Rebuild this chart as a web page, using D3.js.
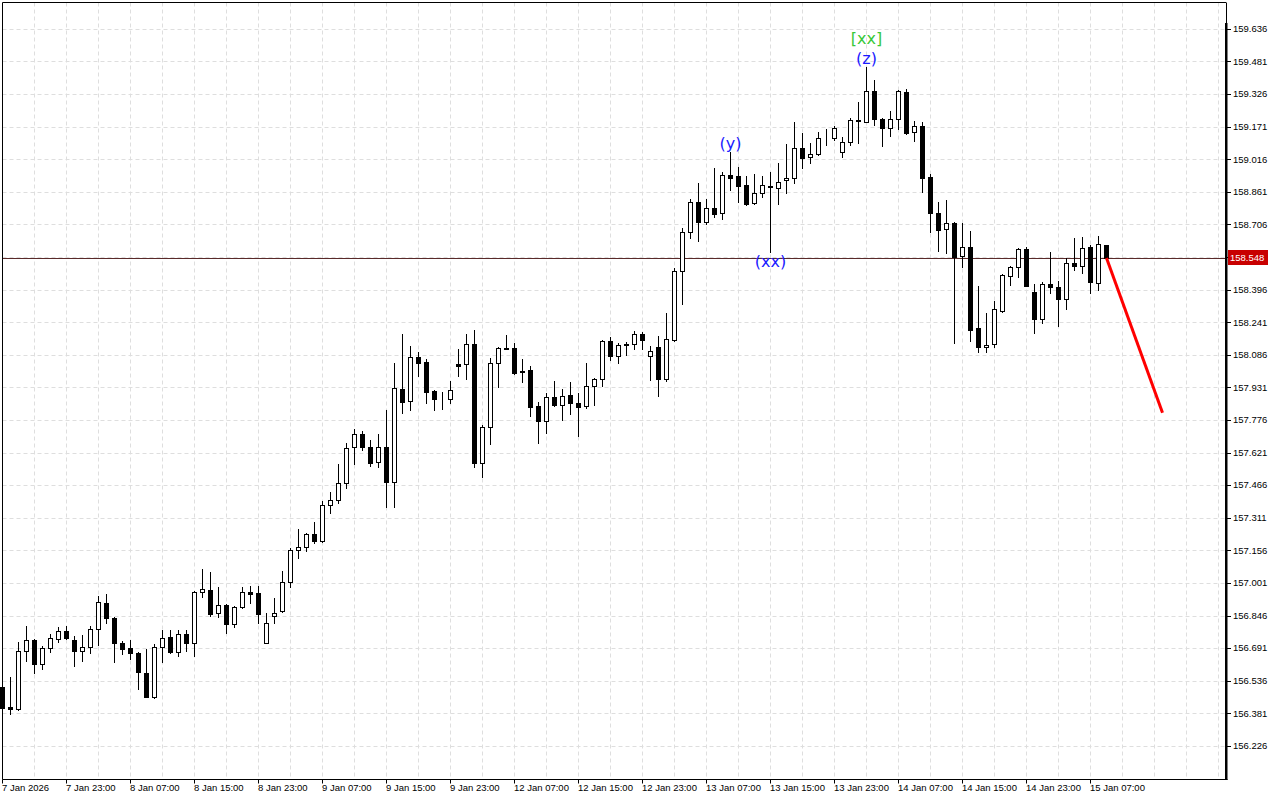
<!DOCTYPE html>
<html><head><meta charset="utf-8">
<script src="https://cdn.jsdelivr.net/npm/d3@7"></script>
<style>
html,body{margin:0;padding:0;background:#fff;}
svg{display:block;}
.ax{font-family:"Liberation Sans",Arial,sans-serif;font-size:9.5px;fill:#000;}
</style></head>
<body><svg id="c" width="1280" height="800"></svg>
<script>
const openP = [
156.509,156.413,156.403,156.680,156.732,156.617,156.695,156.735,156.775,156.732,
156.678,156.697,156.783,156.907,156.835,156.716,156.693,156.669,156.574,156.462,
156.700,156.745,156.674,156.761,156.719,156.962,156.970,156.859,156.897,156.807,
156.888,156.962,156.954,156.719,156.846,156.870,157.006,157.160,157.176,157.235,
157.204,157.373,157.396,157.477,157.648,157.710,157.651,157.577,157.648,157.485,
157.926,157.870,158.076,158.053,157.916,157.883,157.879,158.044,158.043,158.138,
157.575,157.743,158.051,158.117,158.119,158.011,158.016,157.845,157.775,157.889,
157.848,157.896,157.860,157.845,157.940,157.972,158.154,158.084,158.138,158.138,
158.187,158.084,158.124,157.973,158.159,158.485,158.671,158.813,158.721,158.785,
158.761,158.943,158.940,158.896,158.809,158.856,158.893,158.880,158.918,158.928,
159.070,159.027,159.042,159.121,159.121,159.051,159.102,159.203,159.197,159.343,
159.208,159.165,159.208,159.339,159.146,159.176,158.932,158.761,158.685,158.716,
158.559,158.599,158.214,158.124,158.138,158.298,158.464,158.504,158.590,158.385,
158.257,158.423,158.409,158.352,158.523,158.512,158.599,158.428,158.610];
const highP = [
156.518,156.558,156.724,156.799,156.737,156.704,156.761,156.795,156.799,156.751,
156.756,156.799,156.941,156.951,156.841,156.727,156.732,156.675,156.688,156.712,
156.780,156.780,156.780,156.780,156.965,157.070,157.054,156.986,156.902,156.894,
156.986,156.989,156.989,156.859,156.930,157.060,157.168,157.260,157.239,157.293,
157.393,157.434,157.569,157.667,157.735,157.726,157.683,157.712,157.826,158.051,
158.187,158.130,158.103,158.067,157.921,157.910,157.964,158.114,158.187,158.206,
157.754,158.072,158.123,158.182,158.143,158.067,158.035,157.862,157.908,157.964,
157.924,157.959,157.905,158.051,157.976,158.159,158.174,158.146,158.151,158.201,
158.195,158.130,158.178,158.286,158.500,158.690,158.829,158.907,158.828,158.975,
158.956,159.053,158.981,158.940,158.948,158.940,158.956,158.999,159.091,159.197,
159.141,159.094,159.146,159.162,159.178,159.122,159.213,159.289,159.458,159.395,
159.212,159.248,159.347,159.351,159.201,159.197,158.948,158.813,158.824,158.720,
158.716,158.677,158.415,158.286,158.345,158.472,158.510,158.595,158.599,158.425,
158.436,158.576,158.439,158.550,158.645,158.650,158.610,158.655,158.612];
const lowP = [
156.394,156.379,156.399,156.634,156.574,156.593,156.676,156.721,156.739,156.610,
156.634,156.672,156.708,156.814,156.626,156.664,156.642,156.498,156.459,156.455,
156.626,156.672,156.656,156.681,156.656,156.938,156.848,156.843,156.767,156.792,
156.883,156.909,156.811,156.716,156.811,156.865,156.986,157.121,157.155,157.192,
157.200,157.337,157.385,157.453,157.569,157.636,157.561,157.556,157.366,157.366,
157.813,157.826,157.987,157.860,157.826,157.830,157.858,157.989,157.973,157.556,
157.509,157.664,157.937,158.114,157.995,157.960,157.797,157.670,157.718,157.845,
157.778,157.807,157.704,157.834,157.850,157.940,158.064,158.051,158.087,158.114,
158.116,157.968,157.894,157.965,158.154,158.330,158.645,158.631,158.709,158.742,
158.734,158.872,158.816,158.801,158.804,158.840,158.578,158.804,158.859,158.907,
158.978,159.002,159.038,159.086,159.110,159.030,159.086,159.097,159.193,159.181,
159.081,159.129,159.162,159.137,159.105,158.864,158.674,158.583,158.571,158.146,
158.507,158.154,158.103,158.103,158.124,158.294,158.420,158.460,158.413,158.190,
158.238,158.381,158.227,158.306,158.491,158.476,158.381,158.396,158.548];
const closeP = [
156.409,156.404,156.680,156.732,156.617,156.693,156.740,156.775,156.743,156.681,
156.697,156.783,156.911,156.835,156.716,156.688,156.669,156.578,156.462,156.700,
156.740,156.676,156.761,156.719,156.959,156.973,156.856,156.897,156.807,156.888,
156.962,156.949,156.854,156.814,156.862,157.006,157.160,157.176,157.235,157.204,
157.373,157.396,157.477,157.644,157.710,157.651,157.575,157.648,157.485,157.929,
157.865,158.076,158.051,157.913,157.878,157.881,157.919,158.036,158.138,157.575,
157.743,158.048,158.119,158.119,158.003,158.005,157.841,157.775,157.889,157.848,
157.894,157.858,157.839,157.940,157.972,158.154,158.084,158.135,158.136,158.187,
158.159,158.106,157.973,158.162,158.485,158.671,158.813,158.721,158.785,158.758,
158.943,158.928,158.891,158.804,158.856,158.896,158.888,158.911,158.928,159.070,
159.025,159.042,159.118,159.117,159.165,159.099,159.205,159.200,159.343,159.208,
159.165,159.208,159.343,159.144,159.178,158.930,158.761,158.682,158.714,158.555,
158.599,158.206,158.124,158.135,158.305,158.468,158.504,158.590,158.417,158.257,
158.423,158.409,158.352,158.523,158.512,158.595,158.433,158.614,158.548];

const priceTicks = [159.636,159.481,159.326,159.171,159.016,158.861,158.706,158.551,158.396,158.241,
  158.086,157.931,157.776,157.621,157.466,157.311,157.156,157.001,156.846,156.691,156.536,156.381,156.226];
const timeLabels = ["7 Jan 2026","7 Jan 23:00","8 Jan 07:00","8 Jan 15:00","8 Jan 23:00","9 Jan 07:00",
  "9 Jan 15:00","9 Jan 23:00","12 Jan 07:00","12 Jan 15:00","12 Jan 23:00","13 Jan 07:00",
  "13 Jan 15:00","13 Jan 23:00","14 Jan 07:00","14 Jan 15:00","14 Jan 23:00","15 Jan 07:00"];
const timeLabelBars = [0,8,16,24,32,40,48,56,64,72,80,88,96,104,112,120,128,136];
const forecastBars = [138,145];
const forecastPrices = [158.548,157.813];
const currentPrice = 158.548;
const waveLabels = ["[xx]","(z)","(y)","(xx)"];
const waveBars = [108,108,91,96];
const waveSide = ["high","high","high","low"];

const svg = d3.select("#c");
const L = 2.5, T = 2.5, R = 1226, B = 779.5;
const x = d3.scaleLinear().domain([0,150]).range([2.5,1202.5]);
const y = d3.scaleLinear().domain([156.226,159.636]).range([746.4,29.3]);
const crisp = v => Math.round(v - 0.5) + 0.5;

// grid
const gridBars = d3.range(4, 153, 4);
svg.append("g").selectAll("line").data(gridBars).join("line")
  .attr("x1", d => crisp(x(d))).attr("x2", d => crisp(x(d)))
  .attr("y1", T).attr("y2", B)
  .attr("stroke", "#dedede").attr("stroke-dasharray", "4,3");
svg.append("g").selectAll("line").data(priceTicks).join("line")
  .attr("x1", L).attr("x2", R)
  .attr("y1", d => crisp(y(d))).attr("y2", d => crisp(y(d)))
  .attr("stroke", "#dedede").attr("stroke-dasharray", "4,3");

// current price line
svg.append("line").attr("x1", L).attr("x2", R)
  .attr("y1", crisp(y(currentPrice))).attr("y2", crisp(y(currentPrice)))
  .attr("stroke", "#5a2a2a").attr("stroke-width", 1);

// candles
const idx = d3.range(openP.length);
const cg = svg.append("g");
cg.selectAll("line").data(idx).join("line")
  .attr("x1", i => crisp(x(i))).attr("x2", i => crisp(x(i)))
  .attr("y1", i => Math.round(y(highP[i]))).attr("y2", i => Math.round(y(lowP[i])) + 1)
  .attr("stroke", "#000").attr("stroke-width", 1);
cg.selectAll("rect").data(idx).join("rect")
  .attr("x", i => crisp(x(i)) - 2)
  .attr("width", 4)
  .attr("y", i => Math.round(y(Math.max(openP[i], closeP[i]))) + 0.5)
  .attr("height", i => Math.max(0, Math.round(y(Math.min(openP[i], closeP[i]))) - Math.round(y(Math.max(openP[i], closeP[i])))))
  .attr("fill", i => closeP[i] >= openP[i] ? "#fff" : "#000")
  .attr("stroke", "#000").attr("stroke-width", 1);

// forecast line
svg.append("line")
  .attr("x1", x(forecastBars[0])).attr("y1", y(forecastPrices[0]))
  .attr("x2", x(forecastBars[1])).attr("y2", y(forecastPrices[1]))
  .attr("stroke", "#ff0000").attr("stroke-width", 3).attr("stroke-linecap", "butt");

// wave labels
const wg = svg.append("g").attr("font-family", "DejaVu Sans, sans-serif").attr("font-size", 16).attr("text-anchor", "middle");
waveLabels.forEach((t, k) => {
  const b = waveBars[k];
  let yy;
  if (waveSide[k] === "low") yy = y(lowP[b]) + 14.8;
  else yy = y(highP[b]) - 3 - (k === 0 ? 19.8 : 0);
  wg.append("text").attr("x", x(b)).attr("y", yy)
    .attr("fill", t === "[xx]" ? "#38c838" : "#1a1aff").text(t);
});

// frame
svg.append("line").attr("x1", L).attr("x2", R).attr("y1", T).attr("y2", T).attr("stroke", "#000");
svg.append("line").attr("x1", L).attr("x2", L).attr("y1", T).attr("y2", B).attr("stroke", "#000");
svg.append("line").attr("x1", L).attr("x2", 1227.5).attr("y1", B).attr("y2", B).attr("stroke", "#000");
svg.append("line").attr("x1", 1226.5).attr("x2", 1226.5).attr("y1", T).attr("y2", 23).attr("stroke", "#000");
svg.append("rect").attr("x", 1225).attr("y", 23).attr("width", 2.5).attr("height", B - 23 + 0.5).attr("fill", "#000");

// price axis (the level hidden behind the current-price tag is not labelled)
const labelTicks = priceTicks.filter(d => Math.abs(y(d) - y(currentPrice)) > 9);
const pa = svg.append("g");
pa.selectAll("line").data(priceTicks).join("line")
  .attr("x1", 1227).attr("x2", 1231)
  .attr("y1", d => crisp(y(d))).attr("y2", d => crisp(y(d))).attr("stroke", "#000");
pa.selectAll("text").data(labelTicks).join("text").attr("class", "ax")
  .attr("x", 1233).attr("y", d => y(d)).attr("dy", "0.3em")
  .text(d => d3.format(".3f")(d));

// current price label
const cy = y(currentPrice);
svg.append("rect").attr("x", 1228).attr("y", Math.round(cy) - 8).attr("width", 40).attr("height", 15).attr("fill", "#c80000");
svg.append("text").attr("class", "ax").attr("x", 1230).attr("y", cy).attr("dy", "0.3em")
  .style("fill", "#fff").text(d3.format(".3f")(currentPrice));

// time axis
const ta = svg.append("g");
ta.selectAll("line").data(timeLabelBars).join("line")
  .attr("x1", d => crisp(x(d))).attr("x2", d => crisp(x(d)))
  .attr("y1", B).attr("y2", B + 4).attr("stroke", "#000");
ta.selectAll("text").data(timeLabelBars).join("text").attr("class", "ax")
  .attr("x", d => crisp(x(d)) - 0.5).attr("y", 791)
  .text((d, k) => timeLabels[k]);
</script></body></html>
